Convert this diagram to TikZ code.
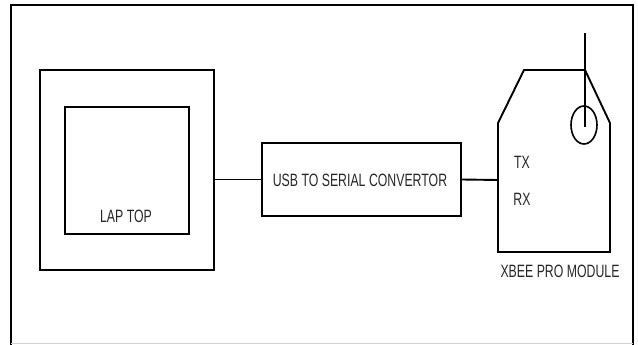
\documentclass[tikz,border=0pt]{standalone}
\usepackage{fontspec}
\usepackage{graphicx}
\setmainfont{Liberation Sans}
\newcommand\tallfont[1]{\scalebox{1}[1.45]{#1}}
\begin{document}
\begin{tikzpicture}[x=1pt,y=-1pt,
  boxline/.style={draw=black,line width=1.9pt},
  plainbox/.style={boxline,inner sep=0pt},
  lbl/.style={inner sep=0pt,text=black!85,font=\fontsize{12.3}{14}\selectfont},
  wire/.style={draw=black,line width=1.9pt}]
\useasboundingbox (0,0) rectangle (638,345);
% frame
\draw[line width=2.4pt] (11,345) -- (11,5) -- (633,5) -- (633,345);
\draw[black!18,line width=1pt] (11,343.5) -- (633,343.5);
% laptop
\node[plainbox,minimum width=174pt,minimum height=200pt] (laptop) at (127,170) {};
\node[plainbox,minimum width=124pt,minimum height=127pt] (screen) at (127,170.5) {};
\node[lbl] (laptoplbl) at (126,216) {\tallfont{LAP TOP}};
% converter
\node[plainbox,minimum width=199pt,minimum height=73pt] (usb) at (361.5,179.5) {};
\node[lbl] (usblbl) at (360,180) {\tallfont{USB TO SERIAL CONVERTOR}};
% xbee
\draw[boxline,line join=miter] (498,252) -- (498,123) -- (524,70) -- (585,70) -- (610,123) -- (610,252) -- cycle;
\coordinate (xbeein) at (498,180);
\coordinate (anttop) at (585,33);
\coordinate (antbot) at (585,127);
\draw[wire,line width=1.6pt] (anttop) -- (antbot);
\draw[boxline,line width=1.6pt] (584,125) ellipse [x radius=13, y radius=19];
\node[lbl] (tx) at (522,162) {\tallfont{TX}};
\node[lbl] (rx) at (522,199) {\tallfont{RX}};
\node[lbl] (xbeelbl) at (560,271) {\tallfont{XBEE PRO MODULE}};
% connectors
\draw[wire] (laptop.east |- usb.west) -- (usb.west);
\draw[wire] (usb.east) -- (xbeein);
\end{tikzpicture}
\end{document}
